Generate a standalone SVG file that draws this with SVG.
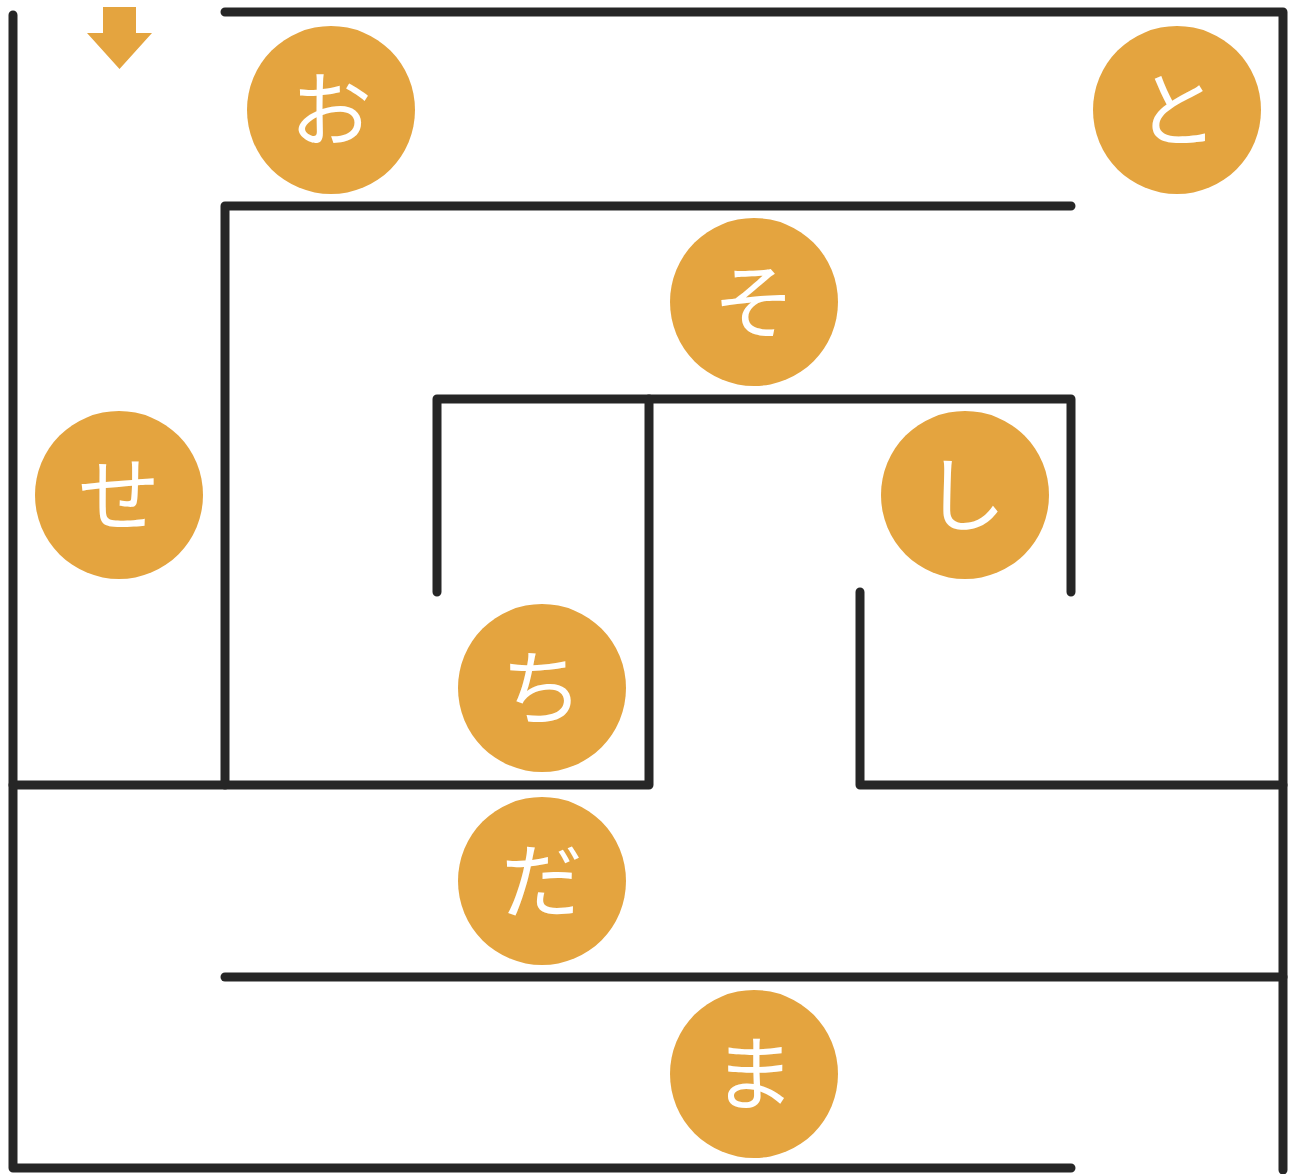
<svg xmlns="http://www.w3.org/2000/svg" width="1291" height="1174" viewBox="0 0 1291 1174">
<style>
.wall{fill:none;stroke:#262626;stroke-width:9;stroke-linecap:round;stroke-linejoin:round}
.c{fill:#E4A43F}
.t{fill:#fff;font-family:"Noto Sans CJK JP","Noto Sans CJK SC",sans-serif;font-size:82px;font-weight:400;text-anchor:middle}
</style>
<rect width="1291" height="1174" fill="#fff"/>
<g id="connectors">
<path class="wall" d="M13,15 V1168 H1071"/>
<path class="wall" d="M225,12 H1283 V1170"/>
<path class="wall" d="M1071,206 H225 V785"/>
<path class="wall" d="M13,785 H649 V399"/>
<path class="wall" d="M437,592 V399 H1071 V592"/>
<path class="wall" d="M860,592 V785 H1283"/>
<path class="wall" d="M225,977 H1283"/>
</g>
<g id="start"><path class="c" d="M103,7 H136 V33 H152 L119.5,69 L87,33 H103 Z"/></g>
<g id="n-o"><circle class="c" cx="331" cy="110" r="84"/><text class="t" x="331" y="140">お</text></g>
<g id="n-to"><circle class="c" cx="1177" cy="110" r="84"/><text class="t" x="1177" y="140">と</text></g>
<g id="n-so"><circle class="c" cx="754" cy="302" r="84"/><text class="t" x="754" y="332">そ</text></g>
<g id="n-se"><circle class="c" cx="119" cy="495" r="84"/><text class="t" x="119" y="525">せ</text></g>
<g id="n-shi"><circle class="c" cx="965" cy="495" r="84"/><text class="t" x="965" y="525">し</text></g>
<g id="n-chi"><circle class="c" cx="542" cy="688" r="84"/><text class="t" x="542" y="718">ち</text></g>
<g id="n-da"><circle class="c" cx="542" cy="881" r="84"/><text class="t" x="542" y="911">だ</text></g>
<g id="n-ma"><circle class="c" cx="754" cy="1074" r="84"/><text class="t" x="754" y="1104">ま</text></g>
</svg>
